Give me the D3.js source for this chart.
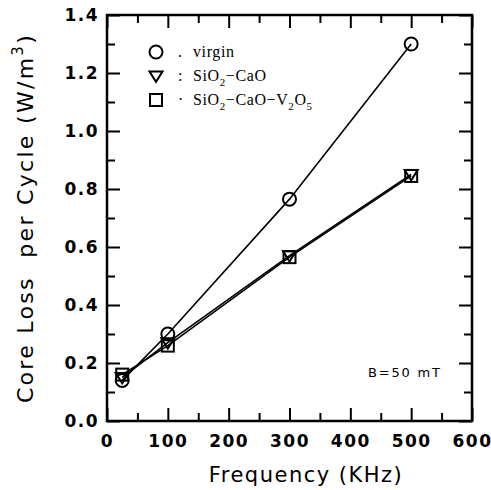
<!DOCTYPE html>
<html>
<head>
<meta charset="utf-8">
<script src="https://cdn.jsdelivr.net/npm/d3@7"></script>
<style>
  body { margin: 0; background: #fff; }
  svg { display: block; }
  .tick text { font-family: "DejaVu Sans", sans-serif; font-size: 17px; font-weight: bold; letter-spacing: 1.5px; fill: #000; }
</style>
</head>
<body>
<div id="chart"></div>
<script>
// data
let freq = [25, 100, 300, 500];
let virgin = [0.14, 0.30, 0.765, 1.30];
let sioCao = [0.15, 0.27, 0.57, 0.85];
let sioCaoV = [0.16, 0.26, 0.565, 0.845];
let xTicks = [0, 100, 200, 300, 400, 500, 600];
let yTicks = [0.0, 0.2, 0.4, 0.6, 0.8, 1.0, 1.2, 1.4];

let svgWidth = 491;
let svgHeight = 490;
let margin = {top: 15, right: 19, bottom: 69, left: 107};
let chartWidth = svgWidth - margin.left - margin.right;
let chartHeight = svgHeight - margin.top - margin.bottom;

let svg = d3.select('#chart').append('svg')
  .attr('width', svgWidth)
  .attr('height', svgHeight);

let g = svg.append('g').attr('transform', `translate(${margin.left},${margin.top})`);

let x = d3.scaleLinear().domain([0, 600]).range([0, chartWidth]);
let y = d3.scaleLinear().domain([0, 1.4]).range([chartHeight, 0]);

// minor ticks at midpoints
let xMinor = d3.range(50, 600, 100);
let yMinor = d3.range(0.1, 1.4, 0.2);

function drawAxis(axis, transform, labels) {
  let a = g.append('g').attr('transform', transform).call(axis);
  a.select('.domain').remove();
  a.selectAll('line').attr('stroke', '#000').attr('stroke-width', 2);
  if (!labels) a.selectAll('text').remove();
  return a;
}

// major ticks
drawAxis(d3.axisBottom(x).tickValues(xTicks).tickSize(-13).tickPadding(14).tickFormat(d3.format('d')),
  `translate(0,${chartHeight})`, true);
drawAxis(d3.axisTop(x).tickValues(xTicks).tickSize(-13), 'translate(0,0)', false);
drawAxis(d3.axisLeft(y).tickValues(yTicks).tickSize(-13).tickPadding(8).tickFormat(d3.format('.1f')),
  'translate(0,0)', true);
drawAxis(d3.axisRight(y).tickValues(yTicks).tickSize(-13), `translate(${chartWidth},0)`, false);
// minor ticks
drawAxis(d3.axisBottom(x).tickValues(xMinor).tickSize(-8), `translate(0,${chartHeight})`, false);
drawAxis(d3.axisTop(x).tickValues(xMinor).tickSize(-8), 'translate(0,0)', false);
drawAxis(d3.axisLeft(y).tickValues(yMinor).tickSize(-8), 'translate(0,0)', false);
drawAxis(d3.axisRight(y).tickValues(yMinor).tickSize(-8), `translate(${chartWidth},0)`, false);

// frame
g.append('rect')
  .attr('width', chartWidth).attr('height', chartHeight)
  .attr('fill', 'none').attr('stroke', '#000').attr('stroke-width', 2.5);

let line = d3.line().x((d, i) => x(freq[i])).y(d => y(d));

let series = [
  {vals: virgin, shape: 'circle'},
  {vals: sioCao, shape: 'triangle'},
  {vals: sioCaoV, shape: 'square'}
];

series.forEach(s => {
  g.append('path').datum(s.vals)
    .attr('d', line)
    .attr('fill', 'none').attr('stroke', '#000').attr('stroke-width', 1.6);
});

function marker(sel, shape, cx, cy) {
  if (shape === 'circle') {
    sel.append('circle').attr('cx', cx).attr('cy', cy).attr('r', 6.5)
      .attr('fill', 'none').attr('stroke', '#000').attr('stroke-width', 2);
  } else if (shape === 'triangle') {
    let s = 6.5;
    sel.append('path')
      .attr('d', `M${cx - s},${cy - s * 0.7}L${cx + s},${cy - s * 0.7}L${cx},${cy + s * 0.9}Z`)
      .attr('fill', 'none').attr('stroke', '#000').attr('stroke-width', 2);
  } else {
    sel.append('rect').attr('x', cx - 6).attr('y', cy - 6).attr('width', 12).attr('height', 12)
      .attr('fill', 'none').attr('stroke', '#000').attr('stroke-width', 2);
  }
}

series.forEach(s => {
  s.vals.forEach((v, i) => marker(g, s.shape, x(freq[i]), y(v)));
});

// legend
let legendItems = [
  {shape: 'circle', sep: '.', parts: [['virgin', false]]},
  {shape: 'triangle', sep: ':', parts: [['SiO', false], ['2', true], ['\u2212CaO', false]]},
  {shape: 'square', sep: '\u00b7', parts: [['SiO', false], ['2', true], ['\u2212CaO\u2212V', false], ['2', true], ['O', false], ['5', true]]}
];

let legend = svg.append('g');
legendItems.forEach((item, i) => {
  let ly = 52 + i * 24;
  marker(legend, item.shape, 156, ly);
  legend.append('text').attr('x', 178).attr('y', ly + 5)
    .attr('font-family', '"Liberation Serif", serif').attr('font-size', 16).text(item.sep);
  let t = legend.append('text').attr('x', 193).attr('y', ly + 5)
    .attr('font-family', '"Liberation Serif", serif').attr('font-size', 16)
    .attr('letter-spacing', 0.6);
  let shift = 0;
  item.parts.forEach(p => {
    let dy = (p[1] ? 5 : 0) - shift;
    shift = p[1] ? 5 : 0;
    t.append('tspan').attr('dy', dy).attr('font-size', p[1] ? 11 : 16).text(p[0]);
  });
});

// annotation
svg.append('text').attr('x', 368).attr('y', 377)
  .attr('font-family', '"DejaVu Sans", sans-serif').attr('font-size', 13)
  .attr('letter-spacing', 1.8)
  .text('B=50 mT');

// axis titles
svg.append('text')
  .attr('x', 306).attr('y', 482)
  .attr('text-anchor', 'middle')
  .attr('font-family', '"DejaVu Sans", sans-serif').attr('font-size', 21)
  .attr('letter-spacing', 1.5)
  .text('Frequency (KHz)');

let yt = svg.append('text')
  .attr('transform', `translate(33,${margin.top + chartHeight / 2}) rotate(-90)`)
  .attr('text-anchor', 'middle')
  .attr('font-family', '"DejaVu Sans", sans-serif').attr('font-size', 22)
  .attr('letter-spacing', 2.3);
yt.append('tspan').text('Core Loss\u00a0\u00a0per Cycle (W/m');
yt.append('tspan').attr('dy', -10).attr('font-size', 15).text('3');
yt.append('tspan').attr('dy', 10).text(')');
</script>
</body>
</html>
